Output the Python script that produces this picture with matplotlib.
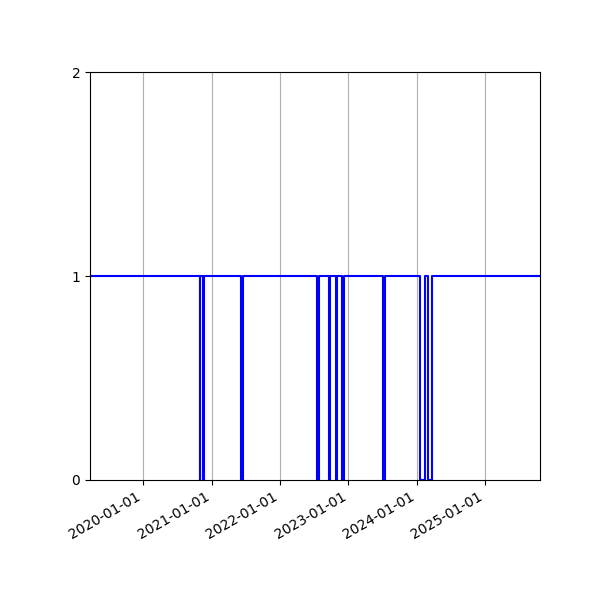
import numpy as np
import matplotlib
matplotlib.use("Agg")
import matplotlib.pyplot as plt
import matplotlib.dates as mdates
import pandas as pd

# change points of the status series (value holds until next date)
change_dates = [
    "2019-03-23",
    "2020-10-28", "2020-10-31",
    "2020-11-15", "2020-11-23",
    "2021-06-05", "2021-06-17",
    "2022-07-19", "2022-07-26",
    "2022-09-20", "2022-09-27",
    "2022-10-27", "2022-11-02",
    "2022-11-26", "2022-12-07",
    "2023-07-06", "2023-07-14",
    "2024-01-21", "2024-02-15",
    "2024-03-01", "2024-03-25",
    "2025-10-21",
]
status = [1, 0, 1, 0, 1, 0, 1, 0, 1, 0, 1, 0, 1, 0, 1, 0, 1, 0, 1, 0, 1, 1]
y_ticks = [0, 1, 2]

dates = pd.to_datetime(change_dates)

fig, ax = plt.subplots(figsize=(6, 6), dpi=100)
ax.plot(dates, status, drawstyle="steps-post", color="blue", linewidth=1.5)

ax.set_xlim(dates[0], dates[-1])
ax.set_ylim(0, 2)
ax.set_yticks(y_ticks)
ax.xaxis.set_major_locator(mdates.YearLocator())
ax.xaxis.set_major_formatter(mdates.DateFormatter("%Y-%m-%d"))
ax.grid(axis="x")

fig.autofmt_xdate()
plt.subplots_adjust(left=0.15, right=0.9, top=0.88, bottom=0.2)
plt.savefig("out.png")
